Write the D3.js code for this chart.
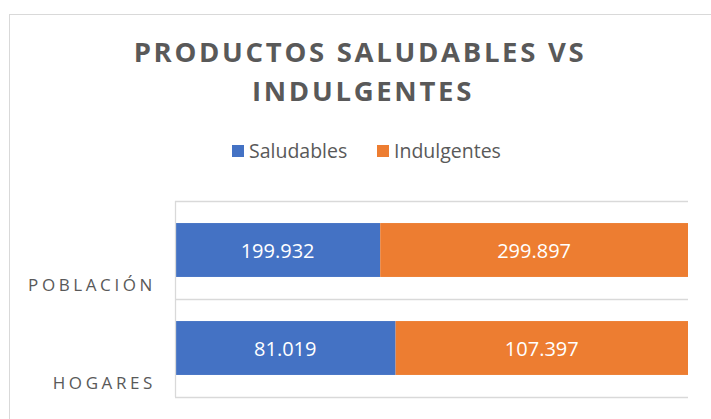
<!DOCTYPE html>
<html><head><meta charset="utf-8">
<script src="https://cdn.jsdelivr.net/npm/d3@7"></script>
<style>body{margin:0;background:#fff}svg{display:block}</style>
</head><body>
<svg id="c" width="711" height="419"></svg>
<script>
const categories = ["POBLACIÓN", "HOGARES"];
const seriesNames = ["Saludables", "Indulgentes"];
const saludables = [199.932, 81.019];
const indulgentes = [299.897, 107.397];
const valueLabels = [["199.932", "299.897"], ["81.019", "107.397"]];
const colors = ["#4472C4", "#ED7D31"];

const svg = d3.select("#c");
const font = "'Open Sans', sans-serif";

// outer border
svg.append("rect").attr("x", 9.5).attr("y", 14.5).attr("width", 720).attr("height", 420)
  .attr("fill", "#fff").attr("stroke", "#d9d9d9").attr("stroke-width", 1);

// title
const title = svg.append("text").attr("text-anchor", "middle").attr("fill", "#595959")
  .attr("font-family", font).attr("font-weight", 700).attr("font-size", 27.5)
  .attr("letter-spacing", 2.7);
title.append("tspan").attr("x", 360).attr("y", 62).text("PRODUCTOS SALUDABLES VS");
title.append("tspan").attr("x", 363).attr("y", 101).text("INDULGENTES");

// data
const rows = categories.map((c, i) => ({cat: c, Saludables: saludables[i], Indulgentes: indulgentes[i], i}));
const stack = d3.stack().keys(seriesNames).offset(d3.stackOffsetExpand);
const stacked = stack(rows);

const x = d3.scaleLinear().domain([0, 1]).range([175, 688]);
const y = d3.scaleBand().domain(categories).range([201, 397]).padding(0);
const barH = y.bandwidth() * 0.55;
const barOff = (y.bandwidth() - barH) / 2;

// gridlines at band boundaries
const bounds = categories.map(c => y(c)).concat([y.range()[1]]);
svg.append("g").selectAll("line").data(bounds).join("line")
  .attr("x1", x(0)).attr("x2", x(1)).attr("y1", d => Math.round(d) + 0.5).attr("y2", d => Math.round(d) + 0.5)
  .attr("stroke", "#d9d9d9").attr("stroke-width", 1.3);

// bars
stacked.forEach((s, si) => {
  const g = svg.append("g");
  g.selectAll("rect").data(s).join("rect")
    .attr("x", d => x(d[0])).attr("width", d => x(d[1]) - x(d[0]))
    .attr("y", d => y(d.data.cat) + barOff).attr("height", barH)
    .attr("fill", colors[si]);
  g.selectAll("text").data(s).join("text")
    .attr("x", d => (x(d[0]) + x(d[1])) / 2)
    .attr("y", d => y(d.data.cat) + y.bandwidth() / 2 + 8)
    .attr("text-anchor", "middle").attr("fill", "#fff")
    .attr("font-family", font).attr("font-size", 20)
    .text(d => valueLabels[d.data.i][si]);
});

// vertical axis line
svg.append("line").attr("x1", x(0) + 0.5).attr("x2", x(0) + 0.5)
  .attr("y1", y.range()[0]).attr("y2", y.range()[1]).attr("stroke", "#d9d9d9").attr("stroke-width", 1.3);

// category labels
svg.append("g").selectAll("text").data(categories).join("text")
  .attr("x", 156).attr("y", d => y(d) + y.bandwidth() / 2 + 41)
  .attr("text-anchor", "end").attr("fill", "#595959")
  .attr("font-family", font).attr("font-size", 17).attr("letter-spacing", 3.6)
  .text(d => d);

// legend
const legend = svg.append("g").attr("font-family", font).attr("font-size", 19.5).attr("fill", "#595959");
const legX = [232, 377];
seriesNames.forEach((n, i) => {
  legend.append("rect").attr("x", legX[i]).attr("y", 145).attr("width", 12).attr("height", 12).attr("fill", colors[i]);
  legend.append("text").attr("x", legX[i] + 17).attr("y", 157.5).text(n);
});
</script>
</body></html>
